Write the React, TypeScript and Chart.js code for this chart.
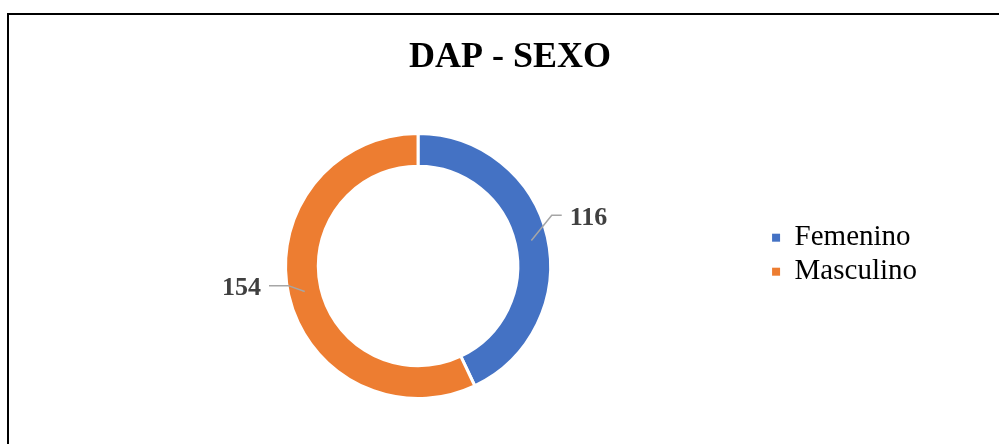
import React, { useEffect, useRef } from "react";
import { Chart, registerables } from "chart.js";

Chart.register(...registerables);

// ---- data ----
const TITLE = "DAP - SEXO";
const CATEGORIES = ["Femenino", "Masculino"];
const VALUES = [116, 154];
const COLORS = ["#4472C4", "#ED7D31"];

const SERIF = "'Liberation Serif', 'Times New Roman', Times, serif";

// leader-line label plugin (labels anchored to each arc's middle)
const leaderPlugin = {
  id: "leaderLabels",
  afterDatasetsDraw(chart: any, _args: any, opts: any) {
    const meta = chart.getDatasetMeta(0);
    const ctx = chart.ctx;
    const values = chart.data.datasets[0].data;
    meta.data.forEach((arc: any, i: number) => {
      const { x, y, startAngle, endAngle, innerRadius, outerRadius } = arc.getProps(
        ["x", "y", "startAngle", "endAngle", "innerRadius", "outerRadius"],
        true
      );
      const mid = (startAngle + endAngle) / 2;
      const r = (innerRadius + outerRadius) / 2;
      const ax = x + Math.cos(mid) * r;
      const ay = y + Math.sin(mid) * r;
      const [dx, dy] = opts.elbows[i];
      const ex = ax + dx;
      const ey = ay + dy;
      const dir = Math.cos(mid) >= 0 ? 1 : -1;
      const tx = ex + dir * opts.tails[i];
      ctx.save();
      ctx.strokeStyle = opts.lineColor;
      ctx.lineWidth = opts.lineWidth;
      ctx.beginPath();
      ctx.moveTo(ax, ay);
      ctx.lineTo(ex, ey);
      ctx.lineTo(tx, ey);
      ctx.stroke();
      ctx.fillStyle = opts.color;
      ctx.font = opts.font;
      ctx.textAlign = dir > 0 ? "left" : "right";
      ctx.textBaseline = "middle";
      ctx.fillText(String(values[i]), tx + dir * opts.gap, ey + opts.textDy);
      ctx.restore();
    });
  },
};

export default function App() {
  const canvasRef = useRef<HTMLCanvasElement | null>(null);

  useEffect(() => {
    if (!canvasRef.current) return;
    const baseGen = (Chart as any).overrides.doughnut.plugins.legend.labels.generateLabels;
    const chart = new Chart(canvasRef.current, {
      type: "doughnut",
      data: {
        labels: CATEGORIES,
        datasets: [
          {
            data: VALUES,
            backgroundColor: COLORS,
            borderColor: "#ffffff",
            borderWidth: 3,
          },
        ],
      },
      plugins: [leaderPlugin],
      options: {
        responsive: false,
        animation: false,
        devicePixelRatio: 1,
        cutout: "75.3%",
        radius: 132.5,
        layout: { padding: { left: 69, right: 48, top: 0, bottom: 0 } },
        events: [],
        plugins: {
          tooltip: { enabled: false },
          title: {
            display: true,
            text: TITLE,
            color: "#000000",
            font: { family: SERIF, size: 36, weight: "bold", lineHeight: 1.2 },
            padding: { top: 36.4, bottom: 8.4 },
          },
          subtitle: {
            display: true,
            position: "right",
            text: " ",
            font: { size: 10, lineHeight: 1 },
            padding: { top: 14, bottom: 0 },
          },
          legend: {
            display: true,
            position: "right",
            align: "center",
            title: {
              display: true,
              text: " ",
              font: { size: 10, lineHeight: 1 },
              padding: { top: 55.4, bottom: 0 },
            },
            labels: {
              color: "#000000",
              font: { family: SERIF, size: 29, lineHeight: 1 },
              boxWidth: 8,
              boxHeight: 8,
              padding: 5,
              generateLabels: (c: any) =>
                baseGen(c).map((l: any) => ({ ...l, lineWidth: 0, strokeStyle: "rgba(0,0,0,0)" })),
            },
          },
          leaderLabels: {
            elbows: [
              [20.4, -25.2],
              [-16.4, -5.8],
            ],
            tails: [10, 19.3],
            gap: 8,
            textDy: 3,
            lineColor: "#a6a6a6",
            lineWidth: 1.5,
            color: "#404040",
            font: `bold 26px ${SERIF}`,
          },
        } as any,
      },
    });
    return () => chart.destroy();
  }, []);

  return (
    <div
      style={{
        position: "fixed",
        left: 0,
        top: 0,
        width: 999,
        height: 444,
        overflow: "hidden",
        background: "#ffffff",
      }}
    >
      <canvas
        ref={canvasRef}
        width={999}
        height={444}
        style={{ position: "absolute", left: 0, top: 0, width: 999, height: 444 }}
      />
      <div
        style={{
          position: "absolute",
          left: 7,
          top: 13,
          width: 1200,
          height: 800,
          borderLeft: "2px solid #000",
          borderTop: "2px solid #000",
          pointerEvents: "none",
        }}
      />
    </div>
  );
}
